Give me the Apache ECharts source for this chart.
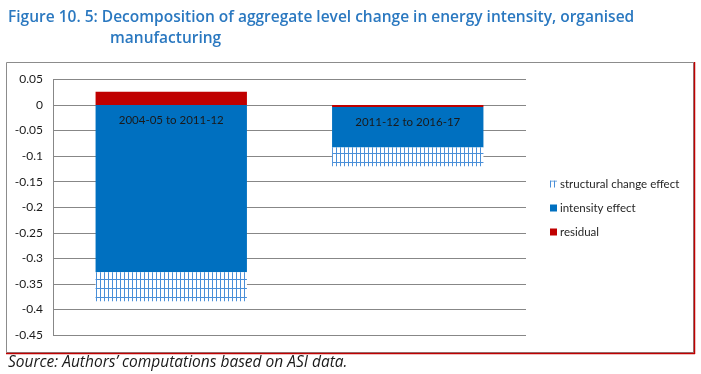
<!DOCTYPE html>
<html>
<head>
<meta charset="utf-8">
<script src="https://cdn.jsdelivr.net/npm/echarts@6/dist/echarts.min.js"></script>
<style>
html,body{margin:0;padding:0;background:#fff;}
#chart{width:701px;height:374px;}
</style>
</head>
<body>
<div id="chart"></div>
<script>
var categories = ['2004-05 to 2011-12', '2011-12 to 2016-17'];
var residual = [0.026, -0.004];
var intensity = [-0.327, -0.079];
var structural = [-0.057, -0.037];
var yTicks = {min: -0.45, max: 0.05, interval: 0.05};

function makePattern() {
  var c = document.createElement('canvas');
  c.width = 4; c.height = 9;
  var ctx = c.getContext('2d');
  ctx.fillStyle = '#ffffff';
  ctx.fillRect(0, 0, 4, 9);
  ctx.fillStyle = '#4a8fd8';
  ctx.fillRect(0, 0, 1, 9);
  ctx.fillRect(0, 0, 4, 1);
  return c;
}

var chart = echarts.init(document.getElementById('chart'), null, {renderer: 'canvas'});
var font = 'Lato, "DejaVu Sans", sans-serif';
var titleFont = '"Open Sans", Lato, sans-serif';

chart.setOption({
  animation: false,
  backgroundColor: '#ffffff',
  textStyle: {fontFamily: font},
  grid: {left: 53, right: 175, top: 79.5, bottom: 39, containLabel: false},
  legend: {
    orient: 'vertical',
    left: 550,
    top: 177,
    padding: 0,
    itemWidth: 7,
    itemHeight: 7,
    itemGap: 10,
    icon: 'rect',
    data: ['structural change effect', 'intensity effect', 'residual'],
    textStyle: {fontSize: 11.5, color: '#262626', fontFamily: font, lineHeight: 14, padding: [0, 0, 0, -2]}
  },
  xAxis: {
    type: 'category',
    data: categories,
    axisLine: {show: false},
    axisTick: {show: false},
    axisLabel: {show: false},
    splitLine: {show: false}
  },
  yAxis: {
    type: 'value',
    min: yTicks.min,
    max: yTicks.max,
    interval: yTicks.interval,
    axisLine: {show: true, lineStyle: {color: '#878787', width: 1}},
    axisTick: {show: false},
    axisLabel: {fontSize: 12, color: '#1a1a1a', margin: 10, fontFamily: font},
    splitLine: {show: true, lineStyle: {color: '#878787', width: 1}}
  },
  series: [
    {
      name: 'residual', type: 'bar', stack: 'total', data: residual,
      barCategoryGap: '36%',
      itemStyle: {color: '#c00000'}
    },
    {
      name: 'intensity effect', type: 'bar', stack: 'total', data: intensity,
      itemStyle: {color: '#0070c0'},
      label: {
        show: true, position: 'insideTop', distance: 9,
        formatter: '{b}', fontSize: 11.5, color: '#1a1a1a', fontFamily: font
      }
    },
    {
      name: 'structural change effect', type: 'bar', stack: 'total', data: structural,
      itemStyle: {color: {image: makePattern(), repeat: 'repeat'}}
    }
  ],
  graphic: [
    {type: 'rect', shape: {x: 6.5, y: 62.5, width: 687, height: 290}, style: {fill: null, stroke: '#8c8c8c', lineWidth: 1}, silent: true, z: -1},
    {type: 'line', shape: {x1: 6, y1: 353.5, x2: 695, y2: 353.5}, style: {stroke: '#c00000', lineWidth: 1.5}, silent: true},
    {type: 'line', shape: {x1: 694.5, y1: 62, x2: 694.5, y2: 354}, style: {stroke: '#c00000', lineWidth: 1.5}, silent: true},
    {type: 'text', left: 8, top: 10, style: {text: 'Figure 10. 5: Decomposition of aggregate level change in energy intensity, organised', fill: '#2a78c0', font: '600 15.5px ' + titleFont}},
    {type: 'text', left: 110, top: 31, style: {text: 'manufacturing', fill: '#2a78c0', font: '600 15.5px ' + titleFont}},
    {type: 'text', left: 8, top: 355, style: {text: 'Source: Authors\u2019 computations based on ASI data.', fill: '#1a1a1a', font: 'italic 15.5px ' + titleFont}}
  ]
});
</script>
</body>
</html>
